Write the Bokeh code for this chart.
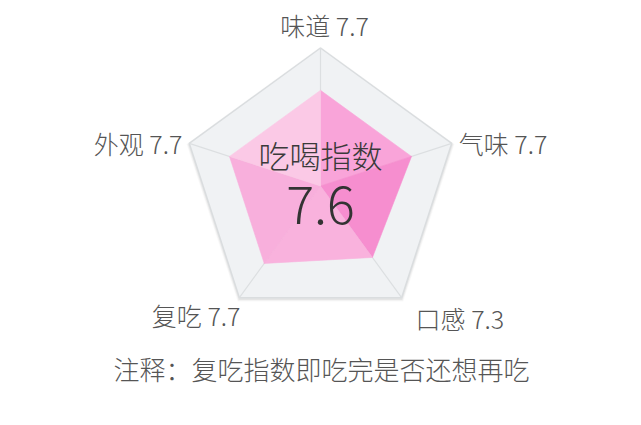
import math
from bokeh.plotting import figure
from bokeh.models import Range1d, ColumnDataSource
from bokeh.core.properties import value
from bokeh.embed import file_html
from bokeh.resources import INLINE

# ---- data ----
categories = ["味道", "气味", "口感", "复吃", "外观"]
scores = [7.7, 7.7, 7.3, 7.7, 7.7]
index_title = "吃喝指数"
index_value = "7.6"
note = "注释：复吃指数即吃完是否还想再吃"
scale_min, scale_max = 2.5, 10.0

# ---- layout / style ----
W, H = 625, 409
CX, CY, R = 320, 185.5, 138
FONT = "Noto Sans CJK SC Light, Noto Sans CJK SC"
tri_colors = ["#f9a4d9", "#f68ecf", "#f9b2dd", "#f8afdc", "#fbc9e6"]

p = figure(width=W, height=H, output_backend="svg", toolbar_location=None,
           x_range=Range1d(0, W), y_range=Range1d(H, 0),
           min_border=0)
p.axis.visible = False
p.grid.visible = False
p.outline_line_color = None
p.background_fill_color = "white"
p.border_fill_color = "white"

n = len(categories)
angles = [math.pi / 2 - i * 2 * math.pi / n for i in range(n)]

def pt(r, a):
    return CX + r * math.cos(a), CY - r * math.sin(a)

def radius(v):
    return (v - scale_min) / (scale_max - scale_min) * R

outer = [pt(R, a) for a in angles]
ox = [q[0] for q in outer]
oy = [q[1] for q in outer]

# soft shadow
for k, al in [(3, 0.025), (2, 0.035), (1, 0.045)]:
    sh = [pt(R + k, a) for a in angles]
    p.patch([q[0] for q in sh], [q[1] + 1.5 for q in sh], fill_color="#000000",
            fill_alpha=al, line_color=None)

p.patch(ox, oy, fill_color="#f0f2f4", line_color="#dadddf", line_width=1.5)
p.segment(x0=[CX] * n, y0=[CY] * n, x1=ox, y1=oy, line_color="#dcdfe1", line_width=1.2)

# data polygon as shaded triangles
inner = [pt(radius(v), a) for v, a in zip(scores, angles)]
xs, ys = [], []
for i in range(n):
    j = (i + 1) % n
    xs.append([CX, inner[i][0], inner[j][0]])
    ys.append([CY, inner[i][1], inner[j][1]])
p.patches(xs=xs, ys=ys, fill_color=tri_colors, line_color=tri_colors, line_width=0.6)

# axis labels
lab_x, lab_y, aligns = [], [], []
offsets = [(4, -23, "center"), (7, 0, "left"), (14, 20, "left"), (1, 17, "right"), (-7, 0, "right")]
for (x, y), (dx, dy, al) in zip(outer, offsets):
    lab_x.append(x + dx)
    lab_y.append(y + dy)
    aligns.append(al)
src = ColumnDataSource(dict(x=lab_x, y=lab_y,
                            t=[f"{c} {s}" for c, s in zip(categories, scores)],
                            al=aligns))
p.text(x="x", y="y", text="t", text_align="al", source=src, text_baseline="middle",
       text_font=value(FONT), text_font_size="25px", text_color="#555555")

# center text
p.text(x=[CX], y=[CY - 32], text=[index_title], text_align="center", text_baseline="middle",
       text_font=value(FONT), text_font_size="31px", text_color="#3a3a3a")
p.text(x=[CX], y=[CY + 19], text=[index_value], text_align="center", text_baseline="middle",
       text_font=value(FONT), text_font_size="52px", text_color="#333333")

# note
p.text(x=[CX + 1], y=[368], text=[note], text_align="center", text_baseline="middle",
       text_font=value(FONT), text_font_size="26px", text_color="#555555")

open("out.html", "w").write(file_html(p, INLINE))
